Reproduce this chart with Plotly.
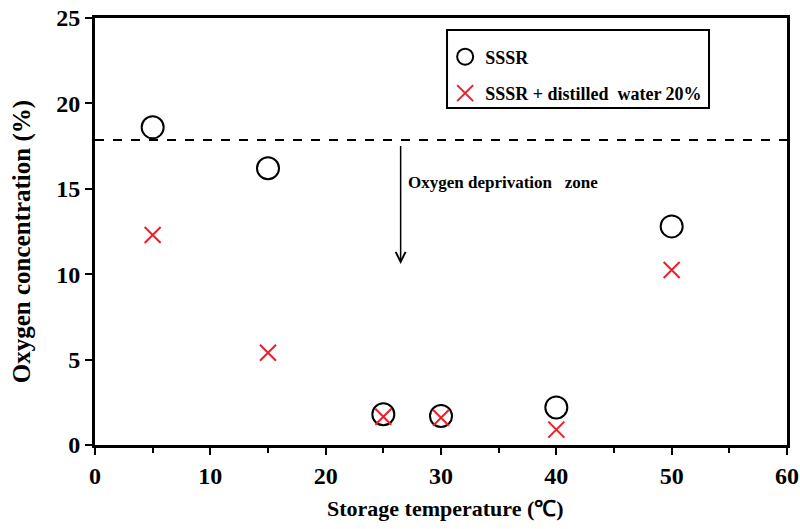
import plotly.graph_objects as go

temps = [5, 15, 25, 30, 40, 50]
sssr = [18.6, 16.2, 1.8, 1.7, 2.2, 12.8]
sssr_water = [12.3, 5.4, 1.65, 1.6, 0.9, 10.25]
names = ["SSSR", "SSSR + distilled  water 20%"]
xticks = [0, 10, 20, 30, 40, 50, 60]
yticks = [0, 5, 10, 15, 20, 25]
threshold = 17.85
arrow_x = 26.5
arrow_top = 17.6
arrow_bottom = 10.6

FONT = "Liberation Serif"

fig = go.Figure()
fig.add_trace(go.Scatter(
    x=temps, y=sssr, mode="markers", name="<b>" + names[0] + "</b>", legendgroup="a",
    marker=dict(symbol="circle-open", size=22, color="black", line=dict(width=2, color="black")),
))
fig.add_trace(go.Scatter(
    x=temps, y=sssr_water, mode="markers", name="<b>" + names[1] + "</b>", legendgroup="b",
    marker=dict(symbol="x-thin-open", size=16, color="#e8202a", line=dict(width=2, color="#e8202a")),
))

fig.add_shape(type="line", xref="x", yref="y", x0=0, x1=60, y0=threshold, y1=threshold,
              line=dict(color="black", width=2, dash="dash"))
fig.add_shape(type="rect", xref="paper", yref="paper", x0=0.5087, x1=0.8873, y0=0.789, y1=0.972,
              line=dict(color="black", width=2))

fig.add_annotation(x=arrow_x, y=arrow_bottom, ax=arrow_x, ay=arrow_top, xref="x", yref="y",
                   axref="x", ayref="y", showarrow=True, arrowhead=5, arrowsize=1.3,
                   arrowwidth=1.5, arrowcolor="black", text="")
fig.add_annotation(x=27.0, y=15.35, xref="x", yref="y", xanchor="left", yanchor="middle",
                   text="<b>Oxygen deprivation   zone</b>", showarrow=False,
                   font=dict(family=FONT, size=17, color="black"))

# axis titles
fig.add_annotation(x=0, y=0.475, xref="paper", yref="paper", xshift=-73, xanchor="center",
                   yanchor="middle", textangle=-90, showarrow=False,
                   text="<b>Oxygen concentration (%)</b>",
                   font=dict(family=FONT, size=25, color="black"))
fig.add_annotation(x=0.5, y=0, xref="paper", yref="paper", xshift=4, yshift=-63, xanchor="center",
                   yanchor="middle", showarrow=False,
                   text="<b>Storage temperature (℃)</b>",
                   font=dict(family=FONT, size=22, color="black"))

fig.update_layout(
    width=800, height=529,
    margin=dict(l=95, r=13, t=18, b=84, autoexpand=False),
    plot_bgcolor="white", paper_bgcolor="white",
    showlegend=True,
    legend=dict(x=0.506, y=0.952, xanchor="left", yanchor="top",
                bgcolor="rgba(0,0,0,0)", borderwidth=0,
                font=dict(family=FONT, size=18, color="black"),
                traceorder="grouped", tracegroupgap=10, itemsizing="trace"),
    xaxis=dict(range=[0, 60], tickvals=xticks, ticktext=["<b>%d</b>" % v for v in xticks],
               showgrid=False, zeroline=False, automargin=False,
               showline=True, linecolor="black", linewidth=3, mirror=True,
               ticks="outside", ticklen=7, tickwidth=2, tickcolor="black",
               minor=dict(dtick=5, ticks="outside", ticklen=5, tickwidth=2, tickcolor="black"),
               tickfont=dict(family=FONT, size=24, color="black", weight="bold")),
    yaxis=dict(range=[0, 25], tickvals=yticks, ticktext=["<b>%d</b>" % v for v in yticks],
               showgrid=False, zeroline=False, automargin=False,
               showline=True, linecolor="black", linewidth=3, mirror=True,
               ticks="outside", ticklen=7, tickwidth=2, tickcolor="black",
               tickfont=dict(family=FONT, size=24, color="black", weight="bold")),
)

fig.write_html("out.html")
